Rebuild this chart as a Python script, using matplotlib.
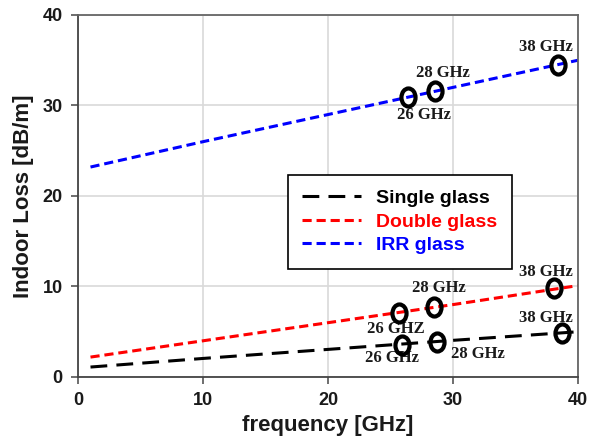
import numpy as np
import matplotlib
matplotlib.use("Agg")
import matplotlib.pyplot as plt
from matplotlib.path import Path

# curves (frequency in GHz, loss in dB/m)
freq = [1, 10, 20, 26, 30, 40]
single_loss = [1.1, 2.05, 3.05, 3.65, 4.05, 5.0]
double_loss = [2.2, 4.0, 6.0, 7.2, 8.0, 10.1]
irr_loss = [23.2, 26.0, 29.0, 30.8, 32.0, 35.0]

# highlighted measurement points
single_pts_x = [25.9, 28.7, 38.7]
single_pts_y = [3.5, 3.9, 4.9]
double_pts_x = [25.7, 28.5, 38.1]
double_pts_y = [7.05, 7.7, 9.8]
irr_pts_x = [26.4, 28.6, 38.4]
irr_pts_y = [30.9, 31.6, 34.5]

# annotation text and where it sits
single_labels = ["26 GHz", "28 GHz", "38 GHz"]
single_lab_x = [25.1, 32.0, 37.4]
single_lab_y = [2.1, 2.5, 6.5]
double_labels = ["26 GHZ", "28 GHz", "38 GHz"]
double_lab_x = [25.4, 28.9, 37.4]
double_lab_y = [5.3, 9.8, 11.6]
irr_labels = ["26 GHz", "28 GHz", "38 GHz"]
irr_lab_x = [27.7, 29.2, 37.4]
irr_lab_y = [29.0, 33.6, 36.5]

# slightly tall ellipse as marker
circ = Path.unit_circle()
oval = Path(circ.vertices * np.array([0.78, 1.0]), circ.codes)

fig = plt.figure(figsize=(6.07, 4.37), dpi=100)
ax = fig.add_axes([0.1285, 0.1373, 0.8237, 0.8284])

ax.plot(freq, single_loss, color="black", lw=2.2, linestyle=(0, (5.5, 3)),
        label="Single glass")
ax.plot(freq, double_loss, color="#ff0000", lw=2.2, linestyle=(0, (3, 1.6)),
        label="Double glass")
ax.plot(freq, irr_loss, color="#0000ff", lw=2.2, linestyle=(0, (3, 1.6)),
        label="IRR glass")

for px, py in [(single_pts_x, single_pts_y), (double_pts_x, double_pts_y),
               (irr_pts_x, irr_pts_y)]:
    ax.plot(px, py, linestyle="none", marker=oval, markersize=13,
            markerfacecolor="none", markeredgecolor="black", markeredgewidth=3,
            zorder=5)

for labs, lx, ly in [(single_labels, single_lab_x, single_lab_y),
                     (double_labels, double_lab_x, double_lab_y),
                     (irr_labels, irr_lab_x, irr_lab_y)]:
    for t, x, y in zip(labs, lx, ly):
        ax.text(x, y, t, ha="center", va="center", fontsize=12,
                family="Liberation Serif", fontweight="bold", color="#1a1a1a")

ax.set_xlim(0, 40)
ax.set_ylim(0, 40)
ax.set_xticks([0, 10, 20, 30, 40])
ax.set_yticks([0, 10, 20, 30, 40])
ax.grid(True, color="#d9d9d9", linewidth=1.2)
ax.set_axisbelow(True)

for lab in ax.get_xticklabels() + ax.get_yticklabels():
    lab.set_family("Liberation Sans")
    lab.set_fontweight("bold")
    lab.set_fontsize(13)
    lab.set_color("#1a1a1a")
ax.tick_params(direction="out", length=5, width=1.2, color="#555555", pad=6)

for s in ax.spines.values():
    s.set_color("#666666")
    s.set_linewidth(1.3)
ax.spines["left"].set_color("#444444")
ax.spines["bottom"].set_color("#444444")

ax.set_xlabel("frequency [GHz]", family="Liberation Sans", fontweight="bold",
              fontsize=16, color="#1a1a1a", labelpad=4)
ax.set_ylabel("Indoor Loss [dB/m]", family="Liberation Sans", fontweight="bold",
              fontsize=16, color="#1a1a1a", labelpad=6)

leg = ax.legend(loc="upper left", bbox_to_anchor=(0.40, 0.585), fancybox=False,
                edgecolor="black", framealpha=1,
                prop={"family": "Liberation Sans", "weight": "bold", "size": 14},
                handlelength=3.0, handletextpad=0.8, labelspacing=0.3,
                borderpad=0.75)
leg.get_frame().set_linewidth(1.2)
for txt, c in zip(leg.get_texts(), ["black", "#ff0000", "#0000ff"]):
    txt.set_color(c)

fig.savefig("out.png", dpi=100)
